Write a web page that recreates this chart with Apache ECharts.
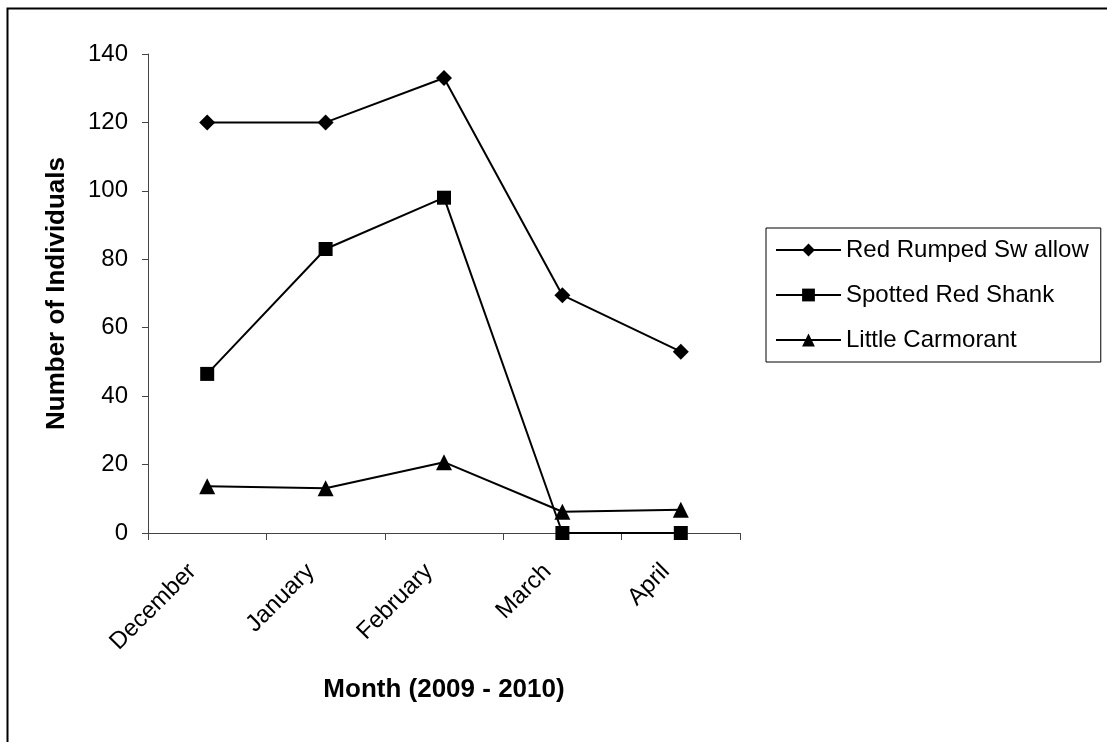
<!DOCTYPE html>
<html>
<head>
<meta charset="utf-8">
<script src="https://cdn.jsdelivr.net/npm/echarts@6/dist/echarts.min.js"></script>
<style>
html,body{margin:0;padding:0;background:#fff;}
#c{width:1107px;height:742px;}
</style>
</head>
<body>
<div id="c"></div>
<script>
var months = ["December", "January", "February", "March", "April"];
var redRumpedSwallow = [120, 120, 133, 69.5, 53];
var spottedRedShank = [46.5, 83, 98, 0, 0];
var littleCarmorant = [13.7, 13.1, 20.7, 6.2, 6.8];
var yTicks = {min: 0, max: 140, interval: 20};

var chart = echarts.init(document.getElementById('c'));
var font = '"Liberation Sans", Arial, sans-serif';
function s(name, data, symbol, size) {
  return {
    name: name, type: 'line', data: data, symbol: symbol, symbolSize: size,
    lineStyle: {color: '#000', width: 2},
    itemStyle: {color: '#000'},
    animation: false
  };
}
chart.setOption({
  animation: false,
  backgroundColor: '#fff',
  graphic: [{
    type: 'rect', left: 5, top: 6, shape: {width: 1110, height: 745},
    style: {fill: 'none', stroke: '#000', lineWidth: 2}, silent: true
  }],
  grid: {left: 148, right: 367, top: 54, bottom: 209, containLabel: false},
  legend: {
    orient: 'vertical', left: 766, top: 228,
    padding: [10, 12, 10, 9], itemGap: 21,
    borderColor: '#000', borderWidth: 1,
    itemWidth: 65, itemHeight: 16,
    textStyle: {fontFamily: font, fontSize: 24, color: '#000', lineHeight: 24},
    data: ['Red Rumped Sw allow', 'Spotted Red Shank', 'Little Carmorant']
  },
  xAxis: {
    type: 'category', data: months, boundaryGap: true,
    name: 'Month (2009 - 2010)', nameLocation: 'middle', nameGap: 144,
    nameTextStyle: {fontFamily: font, fontWeight: 'bold', fontSize: 26, color: '#000'},
    axisLine: {lineStyle: {color: '#444', width: 1}},
    axisTick: {show: true, alignWithLabel: false, length: 7, lineStyle: {color: '#444'}},
    axisLabel: {rotate: 45, fontFamily: font, fontSize: 24, color: '#000', margin: 20, padding: [0, 21, 0, 0]}
  },
  yAxis: {
    type: 'value', min: yTicks.min, max: yTicks.max, interval: yTicks.interval,
    name: 'Number of Individuals', nameLocation: 'middle', nameGap: 78,
    nameTextStyle: {fontFamily: font, fontWeight: 'bold', fontSize: 26, color: '#000'},
    axisLine: {show: true, lineStyle: {color: '#444', width: 1}},
    axisTick: {show: true, length: 6, lineStyle: {color: '#444'}},
    splitLine: {show: false},
    axisLabel: {fontFamily: font, fontSize: 24, color: '#000', margin: 20}
  },
  series: [
    s('Red Rumped Sw allow', redRumpedSwallow, 'diamond', 16),
    s('Spotted Red Shank', spottedRedShank, 'rect', 14),
    s('Little Carmorant', littleCarmorant, 'triangle', 16)
  ]
});
</script>
</body>
</html>
